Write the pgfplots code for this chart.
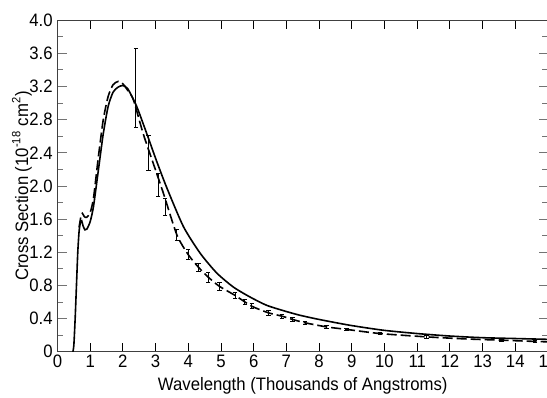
\documentclass[border=0pt]{standalone}
\usepackage{pgfplots}
\pgfplotsset{compat=1.18}
\usepackage{fontspec}
\setmainfont{Liberation Sans}[FakeStretch=0.93]

\pgfplotstableread{
x y
0.47 0.00
0.50 0.08
0.54 0.40
0.58 0.80
0.62 1.20
0.66 1.45
0.70 1.56
0.74 1.58
0.78 1.52
0.84 1.47
0.90 1.48
1.00 1.57
1.10 1.75
1.25 2.19
1.40 2.63
1.55 2.96
1.70 3.13
1.85 3.19
2.00 3.21
2.15 3.17
2.42 2.96
2.73 2.63
3.03 2.30
3.34 1.98
3.85 1.51
4.36 1.19
4.87 0.95
5.38 0.78
5.89 0.66
6.40 0.56
6.96 0.49
7.42 0.44
8.00 0.39
8.94 0.32
9.96 0.26
11.0 0.22
12.0 0.19
13.0 0.17
14.0 0.16
15.0 0.15
}\solid

\pgfplotstableread{
x y
0.66 1.50
0.72 1.64
0.76 1.67
0.82 1.63
0.89 1.62
1.00 1.68
1.10 1.85
1.25 2.35
1.40 2.80
1.55 3.08
1.70 3.22
1.86 3.26
2.00 3.23
2.15 3.15
2.32 3.04
2.62 2.63
2.93 2.27
3.24 1.91
3.65 1.41
4.00 1.17
4.31 1.02
4.61 0.90
4.95 0.79
5.43 0.68
5.94 0.55
6.45 0.47
6.86 0.43
7.19 0.39
7.57 0.35
8.23 0.30
8.84 0.27
9.86 0.22
11.29 0.18
12.50 0.155
13.58 0.14
14.60 0.125
15.00 0.12
}\dashed

\pgfplotstableread{
x y ep em
2.40 3.00 0.66 0.30
2.78 2.40 0.21 0.21
3.08 2.01 0.14 0.14
3.29 1.75 0.10 0.10
3.65 1.41 0.07 0.07
4.00 1.17 0.06 0.06
4.31 1.02 0.05 0.05
4.61 0.90 0.06 0.06
4.95 0.79 0.05 0.05
5.43 0.68 0.04 0.04
5.73 0.60 0.03 0.03
5.94 0.55 0.03 0.03
6.45 0.47 0.03 0.03
6.86 0.43 0.025 0.025
7.19 0.39 0.02 0.02
7.57 0.35 0.02 0.02
8.23 0.30 0.02 0.02
8.84 0.27 0.015 0.015
9.86 0.22 0.015 0.015
11.29 0.18 0.015 0.015
13.58 0.14 0.015 0.015
14.60 0.125 0.015 0.015
}\errs

\begin{document}
\begin{tikzpicture}
\begin{axis}[
  scale only axis, width=245.25pt, height=165.9pt,
  xmin=0, xmax=15, ymin=0, ymax=4,
  xtick={0,1,2,3,4,5,6,7,8,9,10,11,12,13,14,15},
  xticklabels={0,1,2,3,4,5,6,7,8,9,10,11,12,13,14,15},
  ytick={0,0.4,0.8,1.2,1.6,2.0,2.4,2.8,3.2,3.6,4.0},
  yticklabels={0,0.4,0.8,1.2,1.6,2.0,2.4,2.8,3.2,3.6,4.0},
  minor ytick={0.2,0.6,1.0,1.4,1.8,2.2,2.6,3.0,3.4,3.8},
  tick align=inside, tick pos=both,
  major tick length=4.5pt, minor tick length=3pt,
  axis line style={black!75, line width=0.5pt},
  xtick style={black, line width=0.4pt},
  ytick style={black!55, line width=0.4pt},
  minor tick style={black!45, line width=0.4pt},
  tick label style={font=\fontsize{9}{10}\selectfont},
  xticklabel style={inner sep=1.6pt},
  yticklabel style={inner sep=2.2pt},
  label style={font=\fontsize{9}{10}\selectfont},
  xlabel={Wavelength (Thousands of Angstroms)},
  ylabel={Cross Section (10\textsuperscript{-18} cm\textsuperscript{2})},
  xlabel style={at={(axis description cs:0.5,-0.1025)}, anchor=center},
  ylabel style={at={(axis description cs:-0.0724,0.5)}, anchor=center, rotate=0},
  clip=false,
]
\addplot[black, line width=0.8pt, smooth, tension=0.4] table {\solid};
\addplot[black, line width=0.8pt, dash pattern=on 5pt off 2pt, smooth, tension=0.4] table {\dashed};
\addplot[draw=none, mark=none,
  error bars/.cd, y dir=both, y explicit,
  error bar style={draw=black, solid, line width=0.5pt},
  error mark options={draw=black, solid, mark size=1.1pt, rotate=90}]
  table[x=x, y=y, y error plus=ep, y error minus=em] {\errs};
\end{axis}
\pgfresetboundingbox
\path[use as bounding box] ([xshift=-28.75pt,yshift=-22.65pt]current axis.south west) rectangle ([xshift=-0.5pt,yshift=10pt]current axis.north east);
\end{tikzpicture}
\end{document}
